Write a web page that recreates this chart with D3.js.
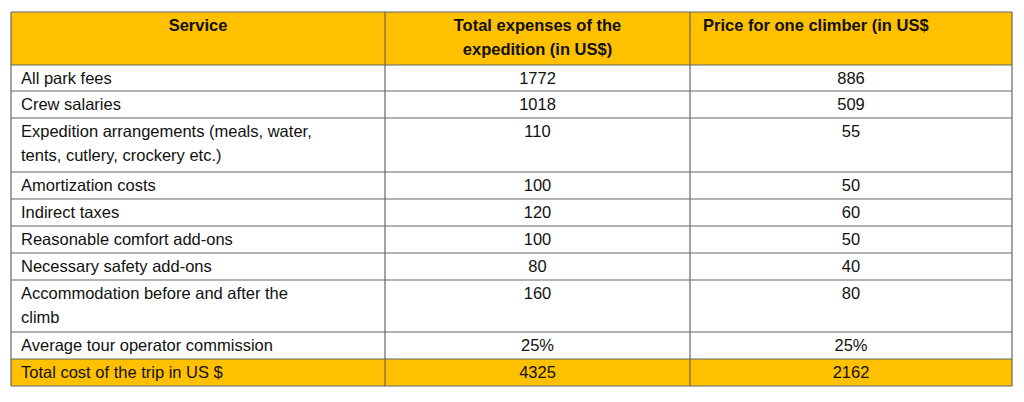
<!DOCTYPE html><html><head><meta charset="utf-8"><script src="https://cdn.jsdelivr.net/npm/d3@7"></script>
<style>body{margin:0;background:#fff}</style></head><body><svg id="c" width="1024" height="402"></svg>
<script>
const headers=[["Service"],["Total expenses of the","expedition (in US$)"],["Price for one climber (in US$"]];
const services=[["All park fees"],["Crew salaries"],["Expedition arrangements (meals, water,","tents, cutlery, crockery etc.)"],["Amortization costs"],["Indirect taxes"],["Reasonable comfort add-ons"],["Necessary safety add-ons"],["Accommodation before and after the","climb"],["Average tour operator commission"],["Total cost of the trip in US $"]];
const totals=["1772","1018","110","100","120","100","80","160","25%","4325"];
const perClimber=["886","509","55","50","60","50","40","80","25%","2162"];
const colEdges=[11,385,690,1012];
const rowEdges=[12,65,91,118,172,199,226,253,280,332,359,386];
const svg=d3.select("#c");
const font="'Liberation Sans', Arial, sans-serif";
const rows=[{cells:headers,hdr:true}].concat(services.map((s,i)=>({cells:[s,[totals[i]],[perClimber[i]]],hdr:false,tot:i===services.length-1})));
rows.forEach((r,i)=>{
  const y0=rowEdges[i],y1=rowEdges[i+1];
  svg.append("rect").attr("x",colEdges[0]).attr("y",y0).attr("width",colEdges[3]-colEdges[0]).attr("height",y1-y0).attr("fill",(r.hdr||r.tot)?"#ffc000":"#fff");
  r.cells.forEach((lines,j)=>{
    const left=j===0&&!r.hdr;
    const x=left?colEdges[0]+10:(r.hdr&&j===2?colEdges[2]+13:(colEdges[j]+colEdges[j+1])/2);
    const anchor=(left||(r.hdr&&j===2))?"start":"middle";
    lines.forEach((t,k)=>svg.append("text").attr("x",x).attr("y",y0+19+k*24).attr("text-anchor",anchor)
      .attr("font-family",font).attr("font-size",16.5).attr("font-weight",r.hdr?"bold":"normal").attr("fill","#111").text(t));
  });
});
rowEdges.forEach(y=>svg.append("line").attr("x1",colEdges[0]).attr("x2",colEdges[3]).attr("y1",y).attr("y2",y).attr("stroke","#666").attr("stroke-width",1.2));
colEdges.forEach(x=>svg.append("line").attr("x1",x).attr("x2",x).attr("y1",rowEdges[0]).attr("y2",rowEdges[rowEdges.length-1]).attr("stroke","#666").attr("stroke-width",1.2));
</script></body></html>
